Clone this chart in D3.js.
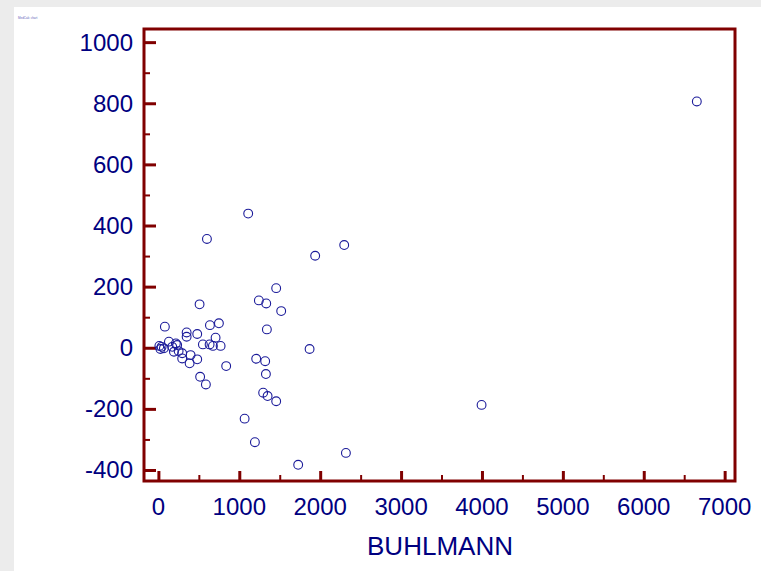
<!DOCTYPE html>
<html>
<head>
<meta charset="utf-8">
<script src="https://cdn.jsdelivr.net/npm/d3@7"></script>
<style>
  body { margin: 0; background: #ececec; }
  svg { display: block; }
</style>
</head>
<body>
<div id="chart"></div>
<script>
// data
var buhlmann = [6656, 1110, 600, 2297, 1938, 1456, 1242, 1333, 509, 1518,
    80, 637, 748, 1341, 349, 349, 480, 707,
    12, 25, 40, 68, 130, 171, 216, 232, 192, 250, 294, 398, 480, 294, 386,
    550, 633, 674, 769, 838, 1869, 1209, 1320, 1329, 516, 587,
    1295, 1350, 1456, 1066, 1193, 1728, 2318, 3995];
var diffs = [806, 439, 356, 336, 301, 195, 155, 145, 142, 120,
    69, 74, 80, 60, 50, 36, 45, 33,
    6, -4, 3, -2, 20, 3, 14, 9, -13, -11, -18, -24, -38, -35, -51,
    11, 11, 6, 6, -60, -4, -36, -44, -86, -95, -120,
    -147, -158, -175, -232, -309, -383, -344, -187];
var xTicks = [0, 1000, 2000, 3000, 4000, 5000, 6000, 7000];
var yTicks = [-400, -200, 0, 200, 400, 600, 800, 1000];
var xTitle = "BUHLMANN";

var svgWidth = 761;
var svgHeight = 571;

// plot frame
var frame = { left: 144, top: 29, right: 735, bottom: 481 };

var svg = d3.select("#chart")
    .append("svg")
    .attr("width", svgWidth)
    .attr("height", svgHeight);

// white sheet
svg.append("rect")
    .attr("x", 14)
    .attr("y", 7)
    .attr("width", svgWidth - 14)
    .attr("height", svgHeight - 7)
    .attr("fill", "white");

// tiny caption in corner
svg.append("text")
    .attr("x", 18)
    .attr("y", 19)
    .attr("font-size", "3px")
    .attr("fill", "#6666bb")
    .attr("font-family", "Liberation Sans, Arial, sans-serif")
    .text("MedCalc chart");

var xScale = d3.scaleLinear()
    .domain([-178, 7128])
    .range([frame.left, frame.right]);

var yScale = d3.scaleLinear()
    .domain([-436, 1043])
    .range([frame.bottom, frame.top]);

var red = "#800000";
var blue = "#000080";
var font = "Liberation Sans, Arial, sans-serif";

// y ticks: major every 200, minor every 100, pointing inward
var yAxis = d3.axisRight(yScale)
    .tickValues(yTicks)
    .tickSize(12)
    .tickFormat("");
var yAxisG = svg.append("g")
    .attr("transform", `translate(${frame.left}, 0)`)
    .call(yAxis);
yAxisG.select(".domain").remove();
yAxisG.selectAll("line").attr("stroke", red).attr("stroke-width", 3);

var yMinor = d3.axisRight(yScale)
    .tickValues(d3.range(-300, 1000, 200))
    .tickSize(6)
    .tickFormat("");
var yMinorG = svg.append("g")
    .attr("transform", `translate(${frame.left}, 0)`)
    .call(yMinor);
yMinorG.select(".domain").remove();
yMinorG.selectAll("line").attr("stroke", red).attr("stroke-width", 2);

// x ticks: major every 1000, minor every 500, pointing inward
var xAxis = d3.axisTop(xScale)
    .tickValues(xTicks)
    .tickSize(10)
    .tickFormat("");
var xAxisG = svg.append("g")
    .attr("transform", `translate(0, ${frame.bottom})`)
    .call(xAxis);
xAxisG.select(".domain").remove();
xAxisG.selectAll("line").attr("stroke", red).attr("stroke-width", 3);

var xMinor = d3.axisTop(xScale)
    .tickValues(d3.range(500, 7000, 1000))
    .tickSize(6)
    .tickFormat("");
var xMinorG = svg.append("g")
    .attr("transform", `translate(0, ${frame.bottom})`)
    .call(xMinor);
xMinorG.select(".domain").remove();
xMinorG.selectAll("line").attr("stroke", red).attr("stroke-width", 2);

// frame
svg.append("rect")
    .attr("x", frame.left)
    .attr("y", frame.top)
    .attr("width", frame.right - frame.left)
    .attr("height", frame.bottom - frame.top)
    .attr("fill", "none")
    .attr("stroke", red)
    .attr("stroke-width", 3);

// tick labels
svg.append("g")
    .selectAll("text")
    .data(yTicks)
    .enter()
    .append("text")
    .attr("x", 133)
    .attr("y", d => yScale(d) + 8.5)
    .attr("text-anchor", "end")
    .attr("font-size", "24px")
    .attr("font-family", font)
    .attr("fill", blue)
    .text(d => d);

svg.append("g")
    .selectAll("text")
    .data(xTicks)
    .enter()
    .append("text")
    .attr("x", d => xScale(d))
    .attr("y", 515)
    .attr("text-anchor", "middle")
    .attr("font-size", "24px")
    .attr("font-family", font)
    .attr("fill", blue)
    .text(d => d);

svg.append("text")
    .attr("x", 440)
    .attr("y", 555)
    .attr("text-anchor", "middle")
    .attr("font-size", "26px")
    .attr("font-family", font)
    .attr("fill", blue)
    .text(xTitle);

// points
svg.append("g")
    .selectAll("circle")
    .data(buhlmann.map((d, i) => [d, diffs[i]]))
    .enter()
    .append("circle")
    .attr("cx", d => xScale(d[0]))
    .attr("cy", d => yScale(d[1]))
    .attr("r", 4.4)
    .attr("fill", "none")
    .attr("stroke", "#1a1a99")
    .attr("stroke-width", 1.1);
</script>
</body>
</html>
